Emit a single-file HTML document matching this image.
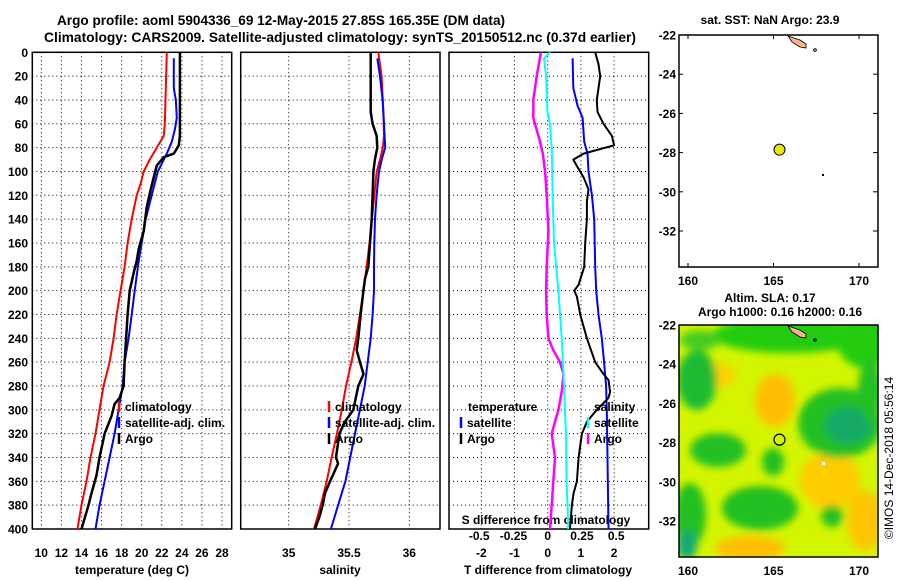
<!DOCTYPE html>
<html><head><meta charset="utf-8">
<style>
body{margin:0;background:#fff;}
svg{display:block;font-family:"Liberation Sans",sans-serif;font-weight:bold;}
</style></head>
<body>
<svg id="c" width="900" height="580" viewBox="0 0 900 580" xmlns="http://www.w3.org/2000/svg">
<text x="281" y="25" font-size="13.6" text-anchor="middle">Argo profile: aoml 5904336_69 12-May-2015 27.85S 165.35E (DM data)</text>
<text x="340" y="42" font-size="13.8" text-anchor="middle">Climatology: CARS2009. Satellite-adjusted climatology: synTS_20150512.nc (0.37d earlier)</text>
<g id="g"></g>
</svg>
<script>
// ---- data ----
const tClimDepth=[0,60,70,80,90,100,110,120,140,160,180,200,220,240,260,280,300,320,340,360,380,400];
const tClim=[22.5,22.3,22.2,21.5,20.8,20.2,19.9,19.5,19.0,18.6,18.3,17.9,17.5,17.2,16.8,16.2,15.8,15.4,14.9,14.5,14.0,13.6];
const tSatDepth=[5,20,30,40,55,65,75,85,90,100,120,140,160,175,200,220,240,260,280,300,320,340,360,380,400];
const tSat=[23.2,23.2,23.2,23.4,23.5,23.3,23.0,22.5,22.2,21.6,21.0,20.4,20.0,19.7,19.3,19.0,18.7,18.3,18.1,17.7,17.3,16.8,16.3,15.8,15.4];
const tArgoDepth=[0,70,78,85,88,95,105,115,130,150,165,175,185,200,220,260,280,290,295,305,320,340,355,370,380,400];
const tArgo=[23.8,23.8,23.7,23.2,22.2,21.5,21.2,20.9,20.5,20.2,19.7,19.5,19.2,18.8,18.6,18.3,18.2,17.8,17.3,17.0,16.3,15.8,15.5,15.0,14.7,14.0];
const sDepth=[0,20,50,70,80,90,100,120,140,160,180,200,220,240,260,280,300,320,340,360,380,400];
const sClim=[35.743,35.77,35.785,35.79,35.78,35.757,35.73,35.71,35.69,35.67,35.646,35.62,35.59,35.56,35.52,35.475,35.44,35.40,35.356,35.315,35.265,35.21];
const sSatDepth=[5,20,40,60,80,90,100,120,140,160,180,200,220,240,260,280,300,320,340,360,380,400];
const sSat=[35.735,35.757,35.779,35.79,35.80,35.771,35.749,35.729,35.716,35.71,35.707,35.707,35.696,35.68,35.655,35.63,35.59,35.55,35.51,35.47,35.41,35.35];
const sArgoDepth=[0,50,60,70,80,90,100,120,140,160,180,190,200,220,240,250,260,270,280,300,310,320,340,345,360,370,380,390,400];
const sArgo=[35.68,35.68,35.696,35.729,35.735,35.715,35.702,35.696,35.688,35.674,35.66,35.633,35.619,35.597,35.577,35.564,35.591,35.62,35.577,35.536,35.467,35.42,35.392,35.41,35.343,35.301,35.282,35.254,35.218];
const dTSatDepth=[5,30,45,55,75,85,100,120,140,180,200,220,240,260,280,300,400];
const dTSat=[0.75,0.77,0.9,1.05,1.1,1.2,1.23,1.33,1.4,1.43,1.46,1.53,1.63,1.7,1.76,1.78,1.83];
const dTArgoDepth=[0,10,20,40,50,60,70,78,82,85,90,95,105,115,125,140,160,180,195,200,205,220,240,260,270,275,285,290,300,310,320,340,360,370,380,400];
const dTArgo=[1.43,1.53,1.58,1.48,1.5,1.68,1.93,2.0,1.48,1.08,0.77,0.87,1.08,1.23,1.18,1.18,1.13,1.1,0.93,0.8,0.88,0.98,1.18,1.43,1.68,1.83,1.88,1.83,1.48,1.18,1.03,0.93,0.88,0.78,0.73,0.67];
const dSArgoDepth=[0,20,40,55,65,75,85,100,120,150,180,200,220,240,250,260,270,285,300,310,320,340,360,380,400];
const dSArgo=[-0.05,-0.08,-0.105,-0.105,-0.08,-0.056,-0.036,-0.019,-0.007,0.005,-0.007,-0.012,-0.007,0.005,0.041,0.09,0.115,0.102,0.078,0.053,0.029,0.053,0.041,0.029,0.017];
const dSSatDepth=[0,5,20,50,60,80,120,160,200,240,280,320,360,400];
const dSSat=[0.017,-0.027,-0.012,-0.002,0.017,0.029,0.036,0.046,0.078,0.102,0.119,0.133,0.138,0.15];
const depthTicks=[0,20,40,60,80,100,120,140,160,180,200,220,240,260,280,300,320,340,360,380,400];
const tempTicks=[10,12,14,16,18,20,22,24,26,28];
const salTicks=[35,35.5,36];
const dTTicks=[-2,-1,0,1,2];
const dSTicks=[-0.5,-0.25,0,0.25,0.5];
const dSTickLabels=["-0.5","-0.25","0","0.25","0.5"];
const latTicks=[-22,-24,-26,-28,-30,-32];
const lonTicks=[160,165,170];
const argoLon=165.35, argoLat=-27.85;

// ---- scales ----
const Y0=52.3,Y1=529;
const yD=d=>Y0+d*(Y1-Y0)/400;
const xT=t=>41.3+(t-10)*10.04;
const xS=s=>288.7+(s-35)*120.6;
const xDT=t=>547.7+t*33.2;
const xDS=s=>547.7+s*137;
const lonX=l=>688+(l-160)*17.1;
const latY1=l=>35+(-22-l)*19.6;
const latY2=l=>325+(-22-l)*19.6;

const NS="http://www.w3.org/2000/svg";
const G=document.getElementById('g');
function mk(tag,attrs,parent){const e=document.createElementNS(NS,tag);for(const k in attrs)e.setAttribute(k,attrs[k]);(parent||G).appendChild(e);return e;}
function txt(x,y,s,size,anchor,parent){const e=mk('text',{x:x,y:y,'font-size':size,'text-anchor':anchor||'middle'},parent);e.textContent=s;return e;}
function line(xs,ds,fx,color,w,name){
  let p='';for(let i=0;i<xs.length;i++){p+=(i?'L':'M')+fx(xs[i]).toFixed(1)+' '+yD(ds[i]).toFixed(1);}
  const e=mk('path',{d:p,fill:'none',stroke:color,'stroke-width':w,'stroke-linejoin':'round'});
  
  
}
function panel(x0,x1,vticks,fx,name){
  const g=mk('g',{});
  
  
  depthTicks.forEach(d=>{mk('line',{x1:x0,x2:x1,y1:yD(d),y2:yD(d),stroke:'#000','stroke-width':1,'stroke-dasharray':'1 3'},g);});
  vticks.forEach(v=>{mk('line',{x1:fx(v),x2:fx(v),y1:Y0,y2:Y1,stroke:'#000','stroke-width':1,'stroke-dasharray':'1 3'},g);});
  mk('rect',{x:x0,y:Y0,width:x1-x0,height:Y1-Y0,fill:'none',stroke:'#000','stroke-width':1.5},g);
  return g;
}
// panel 1
panel(32.3,231.7,tempTicks,xT,'temperature-panel');
depthTicks.forEach(d=>{const t=txt(28,yD(d)+4.5,String(d),12,'end');});
tempTicks.forEach(v=>{const t=txt(xT(v),557,String(v),12);});
txt(132,574,'temperature (deg C)',12);
line(tClim,tClimDepth,xT,'#f00',2,'temp-climatology-line');
line(tSat,tSatDepth,xT,'#00f',2,'temp-satellite-line');
line(tArgo,tArgoDepth,xT,'#000',2.5,'temp-argo-line');
// panel 2
panel(240.7,440,salTicks,xS,'salinity-panel');
salTicks.forEach(v=>{const t=txt(xS(v),557,String(v),12);});
txt(340,574,'salinity',12);
line(sClim,sDepth,xS,'#f00',2,'sal-climatology-line');
line(sSat,sSatDepth,xS,'#00f',2,'sal-satellite-line');
line(sArgo,sArgoDepth,xS,'#000',2.5,'sal-argo-line');
// panel 3
panel(449,648.7,dTTicks,xDT,'difference-panel');
dTTicks.forEach(v=>{const t=txt(xDT(v),557,String(v),12);});
dSTicks.forEach((v,i)=>{const t=txt(xDS(v),540,dSTickLabels[i],12);});
txt(546,524,'S difference from climatology',12);
txt(548,574,'T difference from climatology',12);
line(dSArgo,dSArgoDepth,xDS,'#f0f',2.5,'ds-argo-line');
line(dSSat,dSSatDepth,xDS,'#0ff',2,'ds-satellite-line');
line(dTSat,dTSatDepth,xDT,'#00f',2,'dt-satellite-line');
line(dTArgo,dTArgoDepth,xDT,'#000',2,'dt-argo-line');
// legends
function leg(x,y,color,label,name){
  mk('line',{x1:x,x2:x,y1:y-10,y2:y+1,stroke:color,'stroke-width':2.5});
  const t=txt(x+6,y,label,12,'start');
  
  
}
leg(119,411,'#f00','climatology','legend-climatology');
leg(119,427,'#00f','satellite-adj. clim.','legend-satellite');
leg(119,443,'#000','Argo','legend-argo');
leg(329,411,'#f00','climatology','legend-climatology-2');
leg(329,427,'#00f','satellite-adj. clim.','legend-satellite-2');
leg(329,443,'#000','Argo','legend-argo-2');
txt(468,411,'temperature',12,'start');
leg(461,427,'#00f','satellite','legend-t-satellite');
leg(461,443,'#000','Argo','legend-t-argo');
txt(594,411,'salinity',12,'start');
leg(588,427,'#0ff','satellite','legend-s-satellite');
leg(588,443,'#f0f','Argo','legend-s-argo');

// ---- maps ----
function mapFrame(y0,y1,latY,name){
  const g=mk('g',{});
  
  
  latTicks.forEach(l=>{const y=latY(l);
    mk('line',{x1:679,x2:683,y1:y,y2:y,stroke:'#000'},g);mk('line',{x1:873,x2:878,y1:y,y2:y,stroke:'#000'},g);
    txt(676,y+4.5,String(l),12,'end',g);});
  lonTicks.forEach(l=>{const x=lonX(l);
    mk('line',{x1:x,x2:x,y1:y0,y2:y0+4,stroke:'#000'},g);mk('line',{x1:x,x2:x,y1:y1-4,y2:y1,stroke:'#000'},g);
    txt(x,y1+18,String(l),12,'middle',g);});
  return g;
}
// top map
txt(770,24,'sat. SST: NaN Argo: 23.9',12);
const m1=mapFrame(35,267,latY1,'sst-map');
mk('path',{d:'M788 36 L800 40 L806 44 L806 48 L800 47 L792 42 Z',fill:'#f5b48c',stroke:'#000','stroke-width':0.8},m1);
mk('circle',{cx:815,cy:50,r:1.3,fill:'none',stroke:'#000'},m1);
mk('rect',{x:822,y:174,width:2,height:2,fill:'#000'},m1);
mk('rect',{x:679,y:35,width:199,height:232,fill:'none',stroke:'#000','stroke-width':1.5},m1);
const d1=mk('circle',{cx:lonX(argoLon),cy:latY1(argoLat),r:5.5,fill:'#e8e800',stroke:'#000'},m1);


// bottom map
txt(770,302,'Altim. SLA: 0.17',12);
txt(780,316,'Argo h1000: 0.16 h2000: 0.16',12);
const m2=mapFrame(325,557,latY2,'sla-map');
const defs=mk('defs',{},m2);
const f=mk('filter',{id:'bl',x:'-50%',y:'-50%',width:'200%',height:'200%'},defs);
mk('feGaussianBlur',{stdDeviation:4},f);
const cp=mk('clipPath',{id:'cp'},defs);mk('rect',{x:679,y:325,width:199,height:232},cp);
const hg=mk('g',{'clip-path':'url(#cp)'},m2);


mk('rect',{x:679,y:325,width:199,height:232,fill:'#d4f500'},hg);
const bl=mk('g',{filter:'url(#bl)'},hg);
const blobs=[
 [775,400,20,26,'#ffbe00'],[830,480,30,28,'#ffcc00'],[750,548,35,12,'#ffbe00'],[865,520,18,30,'#ffc400'],[720,375,15,12,'#ffd000'],
 [790,335,78,18,'#22cc11'],[865,340,28,28,'#22cc11'],[697,380,20,30,'#1fbb33'],[840,423,42,35,'#22c022'],[848,425,24,18,'#18aa66'],
 [718,450,28,17,'#22c022'],[773,462,11,14,'#22c022'],[690,515,16,32,'#22c022'],[687,545,10,15,'#19aa77'],[760,508,38,22,'#22c022'],
 [832,516,11,11,'#22c022'],[870,390,12,30,'#22c022'],[700,340,20,10,'#44cc22']
];
blobs.forEach(b=>mk('ellipse',{cx:b[0],cy:b[1],rx:b[2],ry:b[3],fill:b[4]},bl));
mk('path',{d:'M788 326 L800 330 L806 334 L806 338 L800 337 L792 332 Z',fill:'#f5b48c',stroke:'#000','stroke-width':0.8},m2);
mk('circle',{cx:815,cy:340,r:1.3,fill:'none',stroke:'#000'},m2);
mk('rect',{x:822,y:462,width:3,height:3,fill:'#fff'},m2);
mk('rect',{x:679,y:325,width:199,height:232,fill:'none',stroke:'#000','stroke-width':1.5},m2);
const d2=mk('circle',{cx:lonX(argoLon),cy:latY2(argoLat),r:5.5,fill:'none',stroke:'#000','stroke-width':1.2},m2);


const ts=txt(0,0,'©IMOS 14-Dec-2018 05:56:14',12,'middle');
ts.setAttribute('transform','translate(893,458) rotate(-90)');
ts.setAttribute('font-weight','normal');


</script>
</body></html>
